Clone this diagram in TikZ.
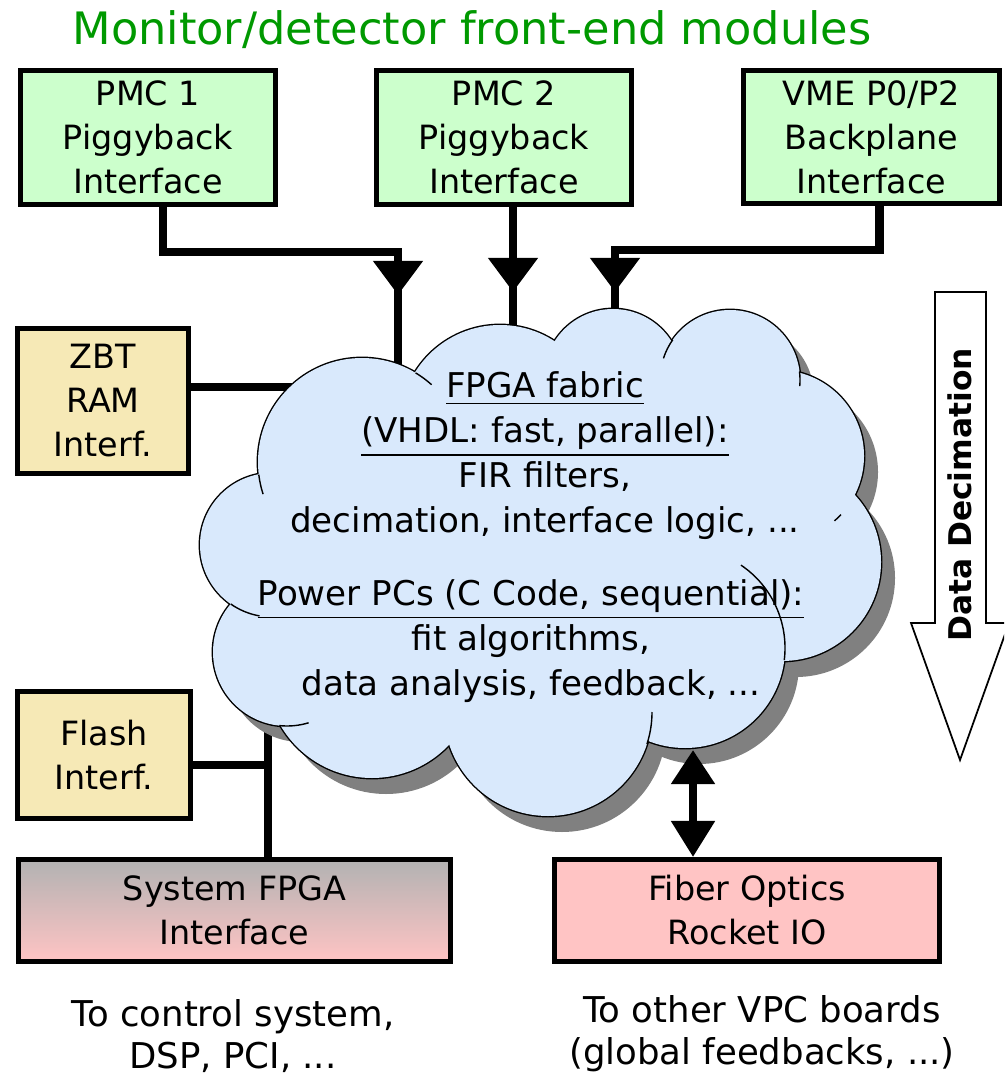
\documentclass[tikz,border=0pt]{standalone}
\usepackage{fontspec}
\setmainfont{DejaVu Sans}
\usepackage{tikz}
\usetikzlibrary{positioning}
\usetikzlibrary{calc}
\usetikzlibrary{arrows.meta,decorations.markings}
\definecolor{titlegreen}{RGB}{0,153,0}
\definecolor{modgreen}{RGB}{204,255,204}
\definecolor{memtan}{RGB}{246,233,182}
\definecolor{iopink}{RGB}{255,196,196}
\definecolor{sysgray}{RGB}{178,178,178}
\definecolor{cloudblue}{RGB}{217,233,252}
\definecolor{cloudshadow}{RGB}{128,128,128}
\newcommand{\boxfont}{\fontsize{9.5}{12.5}\selectfont}
\newcommand{\cloudfont}{\fontsize{9.7}{12.8}\selectfont}
\newcommand{\notefont}{\fontsize{10.1}{12}\selectfont}
\tikzset{
  modbox/.style={draw, line width=1.4pt, align=center, inner sep=0pt, font=\boxfont},
  bus/.style={line width=2.3pt},
  midarrow/.style={postaction={decorate, decoration={markings,
      mark=at position -1.1cm with {\arrow{Triangle[length=3.4mm,width=4.8mm]}}}}},
  cloudline/.style={line width=0.4pt}
}

% cloud puffs: centre x / centre y / radius (pixel units, y down)
\def\cloudpuffs{362/462/104, 500/425/100, 613/378/69, 730/380/70,
  778/456/86, 782/562/99, 685/648/100, 548/712/104, 372/672/106,
  287/652/74, 272/545/72}
% inner fill only, no outline
\def\cloudcore{550/540/180, 420/560/120}

% inner stub of one puff: centre x, centre y, radius, from angle, to angle
\def\puffarc#1#2#3#4#5{
  \draw[cloudline] (#1,#2) ++(#4:#3) arc[start angle=#4,end angle=#5,radius=#3];
}

\begin{document}
\begin{tikzpicture}[x=0.01cm, y=-0.01cm]
\clip (0,0) rectangle (1004,1080);

% ---------------- Title ----------------
\node[font=\fontsize{12.7}{14}\selectfont, text=titlegreen] (title) at (472,30)
  {Monitor/detector front-end modules};

% ---------------- Front-end modules ----------------
\node[modbox, fill=modgreen, minimum width=2.55cm, minimum height=1.34cm] (pmc1) at (148,137.5)
  {PMC 1\\Piggyback\\Interface};
\node[modbox, fill=modgreen, minimum width=2.55cm, minimum height=1.34cm] (pmc2) at (504,137.5)
  {PMC 2\\Piggyback\\Interface};
\node[modbox, fill=modgreen, minimum width=2.55cm, minimum height=1.33cm] (vme) at (871.5,137)
  {VME P0/P2\\Backplane\\Interface};

% ---------------- Memory interfaces ----------------
\node[modbox, fill=memtan, minimum width=1.71cm, minimum height=1.45cm] (zbt) at (103,401)
  {ZBT\\RAM\\Interf.};
\node[modbox, fill=memtan, minimum width=1.73cm, minimum height=1.27cm] (flash) at (104,755)
  {Flash\\Interf.};

% ---------------- Outputs ----------------
\node[modbox, top color=sysgray, bottom color=iopink, minimum width=4.32cm, minimum height=1.02cm] (sys) at (234.5,910.5)
  {System FPGA\\Interface};
\node[modbox, fill=iopink, minimum width=3.85cm, minimum height=1.02cm] (fiber) at (747,910.5)
  {Fiber Optics\\Rocket IO};

% ---------------- Buses (ends hidden under the cloud) ----------------
\coordinate (p1) at (398,405);
\coordinate (p2) at (513,402);
\coordinate (p3) at (615,402);
\coordinate (zj) at (300,387);
\coordinate (fj) at (268,765);
\coordinate (busTop) at (268,700);

\draw[bus, midarrow] ([xshift=1.5mm]pmc1.south) |- (p1 |- 0,252) -- (p1);
\draw[bus, midarrow] (pmc2.south -| p2) -- (p2);
\draw[bus, midarrow] ([xshift=0.8mm]vme.south) |- (p3 |- 0,250) -- (p3);
\draw[bus] (zbt.east |- zj) -- (zj);
\draw[bus] (flash.east |- fj) -- (fj);
\draw[bus] (busTop) -- (busTop |- sys.north);

% ---------------- FPGA cloud ----------------
\foreach \cx/\cy/\r in \cloudpuffs {
  \fill[cloudshadow] (\cx+14,\cy+16) circle[radius=\r];
}
\foreach \cx/\cy/\r in \cloudpuffs {
  \draw[line width=0.8pt] (\cx,\cy) circle[radius=\r];
}
\foreach \cx/\cy/\r in \cloudpuffs {
  \fill[cloudblue] (\cx,\cy) circle[radius=\r];
}
\foreach \cx/\cy/\r in \cloudcore {
  \fill[cloudblue] (\cx,\cy) circle[radius=\r];
}

\puffarc{362}{462}{104}{173}{162}
\puffarc{362}{462}{104}{-59}{-48}
\puffarc{272}{545}{72}{125}{100}
\puffarc{287}{652}{74}{96}{73}
\puffarc{548}{712}{104}{18}{0}
\puffarc{685}{648}{100}{-56}{7}
\puffarc{730}{380}{70}{198}{215}
\puffarc{730}{380}{70}{-7}{5}
\puffarc{778}{456}{86}{43}{49}

\node[align=center, font=\cloudfont] (fabric) at (545,456)
  {\underline{FPGA fabric}\\\underline{(VHDL: fast, parallel):}\\FIR filters,\\decimation, interface logic, ...};
\node[align=center, font=\cloudfont] (ppc) at (531,641)
  {\underline{Power PCs (C Code, sequential):}\\fit algorithms,\\data analysis, feedback, ...};

% ---------------- Fiber link ----------------
\coordinate (fo) at (693,750);
\draw[bus, {Triangle[length=3.4mm,width=4.2mm]}-{Triangle[length=3.6mm,width=4.2mm]}] (fo) -- (fo |- fiber.north);

% ---------------- Data decimation arrow ----------------
\draw[line width=0.5pt, fill=white] (935,292) -- (986,292) -- (986,623) -- (1009,623)
  -- (960,760) -- (911,623) -- (935,623) -- cycle;
\node[rotate=90, font=\fontsize{8.9}{10}\selectfont\bfseries] (decim) at (960,495) {Data Decimation};

% ---------------- Labels ----------------
\node[align=center, font=\notefont] (ctrlnote) at (233,1036) {To control system,\\DSP, PCI, ...};
\node[align=center, font=\notefont] (vpcnote) at (762,1034) {To other VPC boards\\(global feedbacks, ...)};

\end{tikzpicture}
\end{document}
